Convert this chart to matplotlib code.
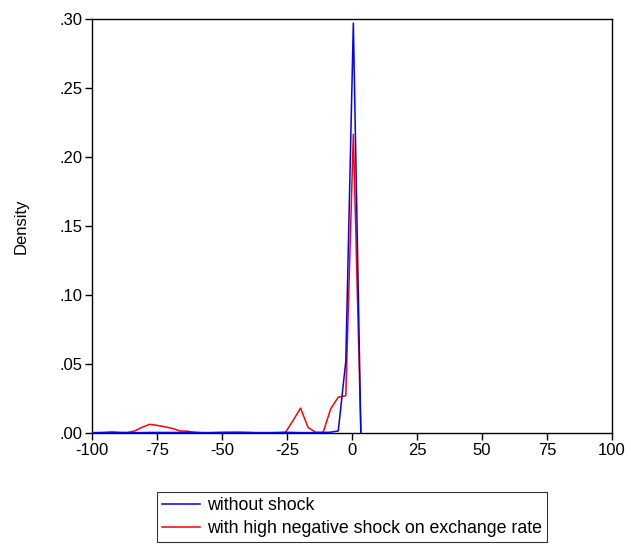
import matplotlib
matplotlib.use("Agg")
import matplotlib.pyplot as plt
from matplotlib.ticker import FuncFormatter

plt.rcParams["font.family"] = ["Liberation Sans", "DejaVu Sans"]
plt.rcParams["axes.unicode_minus"] = False

# grille d'evaluation de la densite
x_grid = [-101.0, -98.1, -95.2, -92.3, -89.4, -86.5, -83.6, -80.7, -77.8, -74.9,
          -72.0, -69.1, -66.2, -63.3, -60.4, -57.5, -54.6, -51.7, -48.8, -45.9,
          -43.0, -40.1, -37.2, -34.3, -31.4, -28.5, -25.6, -22.7, -19.8, -16.9,
          -14.0, -11.1, -8.2, -5.3, -2.4, 0.5, 3.4]

without_shock = [0.0003, 0.0003, 0.0004, 0.0006, 0.0004, 0.0003, 0.0003, 0.0003, 0.0004, 0.0004,
                 0.0004, 0.0004, 0.0004, 0.0004, 0.0005, 0.0003, 0.0003, 0.0004, 0.0005, 0.0005,
                 0.0005, 0.0004, 0.0003, 0.0003, 0.0003, 0.0004, 0.0005, 0.0004, 0.0003, 0.0003,
                 0.0003, 0.0004, 0.0006, 0.0015, 0.0520, 0.2970, 0.0]

with_shock = [0.0002, 0.0002, 0.0003, 0.0005, 0.0003, 0.0003, 0.0015, 0.0042, 0.0063, 0.0055,
              0.0045, 0.0033, 0.0015, 0.0013, 0.0003, 0.0002, 0.0002, 0.0003, 0.0003, 0.0004,
              0.0004, 0.0003, 0.0002, 0.0002, 0.0002, 0.0002, 0.0004, 0.0090, 0.0180, 0.0040,
              0.0005, 0.0005, 0.0175, 0.0260, 0.0270, 0.2165, 0.0]

x_ticks = [-100, -75, -50, -25, 0, 25, 50, 75, 100]
y_ticks = [0.00, 0.05, 0.10, 0.15, 0.20, 0.25, 0.30]

fig = plt.figure(figsize=(6.31, 5.47), dpi=100)
ax = fig.add_axes([0.1458, 0.2084, 0.8242, 0.7569])

l1, = ax.plot(x_grid, without_shock, color="#0000ff", lw=1.1, label="without shock", zorder=3)
l2, = ax.plot(x_grid, with_shock, color="#ff0000", lw=1.1,
              label="with high negative shock on exchange rate", zorder=2)

ax.set_xlim(-100, 100)
ax.set_ylim(0, 0.30)
ax.set_xticks(x_ticks)
ax.set_yticks(y_ticks)
ax.yaxis.set_major_formatter(FuncFormatter(lambda v, p: ("%.2f" % v).lstrip("0")))
ax.tick_params(direction="out", length=5, width=1, labelsize=12, colors="black", pad=2)
for s in ax.spines.values():
    s.set_linewidth(1.0)
ax.set_ylabel("Density", fontsize=12, labelpad=22)

leg = fig.legend(handles=[l1, l2], loc="center", bbox_to_anchor=(0.558, 0.0548),
                 ncol=1, fontsize=12.8, frameon=True, fancybox=False, handlelength=2.1,
                 handletextpad=0.4, borderpad=0.3, labelspacing=0.35, borderaxespad=0)
leg.get_frame().set_edgecolor("black")
leg.get_frame().set_linewidth(0.8)

fig.savefig("out.png", dpi=100)
